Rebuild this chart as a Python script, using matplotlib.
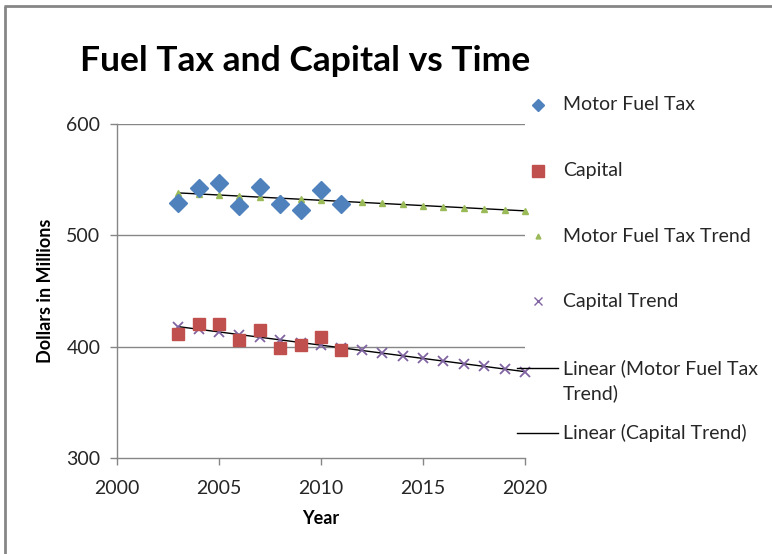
import matplotlib
matplotlib.use("Agg")
import matplotlib.pyplot as plt
from matplotlib.lines import Line2D
import numpy as np

plt.rcParams['font.family'] = ['Lato', 'DejaVu Sans']

years = [2003, 2004, 2005, 2006, 2007, 2008, 2009, 2010, 2011]
motor_fuel_tax = [528.6, 542.6, 546.6, 526.4, 543.5, 527.7, 523.2, 540.5, 527.7]
capital = [411.4, 420.2, 420.0, 406.3, 415.0, 398.5, 401.5, 409.0, 397.0]

trend_years = [2003, 2004, 2005, 2006, 2007, 2008, 2009, 2010, 2011, 2012,
               2013, 2014, 2015, 2016, 2017, 2018, 2019, 2020]
fuel_trend = [538.1, 537.2, 536.2, 535.3, 534.3, 533.4, 532.4, 531.5, 530.5,
              529.6, 528.6, 527.7, 526.7, 525.8, 524.8, 523.9, 522.9, 522.0]
capital_trend = [418.0, 415.6, 413.2, 410.9, 408.5, 406.1, 403.7, 401.3, 399.0,
                 396.6, 394.2, 391.8, 389.4, 387.1, 384.7, 382.3, 379.9, 377.5]

x_ticks = [2000, 2005, 2010, 2015, 2020]
y_ticks = [300, 400, 500, 600]

labels = ["Motor Fuel Tax", "Capital", "Motor Fuel Tax Trend", "Capital Trend",
          "Linear (Motor Fuel Tax", "Linear (Capital Trend)"]
label_cont = "Trend)"

W, H = 772, 554
fig = plt.figure(figsize=(W / 100, H / 100), dpi=100)

def fx(px):
    return px / W

def fy(py):
    return 1 - py / H

ax = fig.add_axes([fx(117), fy(458), fx(525) - fx(117), fy(124) - fy(458)])
ax.set_xlim(2000, 2020)
ax.set_ylim(300, 600)
ax.set_xticks(x_ticks)
ax.set_yticks(y_ticks)
gray = '#868686'
for s in ['top', 'right']:
    ax.spines[s].set_visible(False)
for s in ['left', 'bottom']:
    ax.spines[s].set_color(gray)
    ax.spines[s].set_linewidth(1)
ax.tick_params(axis='both', colors=gray, length=5, width=1, direction='out',
               labelcolor='#262626', labelsize=14)
ax.tick_params(axis='y', pad=7)
ax.tick_params(axis='x', pad=11)
for yv in y_ticks[1:]:
    ax.axhline(yv, color=gray, lw=1, zorder=0)

blue = '#4F81BD'
red = '#C0504D'
green = '#9BBB59'
purple = '#8064A2'

# trend lines
for ty in (fuel_trend, capital_trend):
    c = np.polyfit(trend_years, ty, 1)
    xx = np.array([trend_years[0], trend_years[-1]])
    ax.plot(xx, np.polyval(c, xx), color='black', lw=1, zorder=3)

ax.plot(trend_years, fuel_trend, linestyle='none', marker='^', ms=4.5,
        color=green, zorder=4, clip_on=False)
ax.plot(trend_years, capital_trend, linestyle='none', marker='x', ms=6.5,
        mew=1.3, color=purple, zorder=4, clip_on=False)
ax.plot(years, motor_fuel_tax, linestyle='none', marker='D', ms=9,
        color=blue, zorder=5)
ax.plot(years, capital, linestyle='none', marker='s', ms=9,
        color=red, zorder=5)

ax.set_xlabel("Year", fontsize=13, fontweight='bold', labelpad=9)
ax.set_ylabel("Dollars in Millions", fontsize=13, fontweight='bold', labelpad=9)

fig.text(fx(80), fy(61), "Fuel Tax and Capital vs Time", fontsize=25.5,
         fontweight='bold', ha='left', va='center')

# legend (manual)
leg_y = [105, 171, 236, 301, 368, 433]
mk = [dict(marker='D', ms=6.5, color=blue),
      dict(marker='s', ms=8.5, color=red),
      dict(marker='^', ms=3.5, color=green),
      dict(marker='x', ms=6, mew=1, color=purple)]
for i in range(4):
    fig.add_artist(Line2D([fx(538)], [fy(leg_y[i])], linestyle='none',
                          transform=fig.transFigure, **mk[i]))
for i in (4, 5):
    fig.add_artist(Line2D([fx(517), fx(558)], [fy(leg_y[i]), fy(leg_y[i])],
                          color='black', lw=1, transform=fig.transFigure))
for i, lab in enumerate(labels):
    fig.text(fx(563), fy(leg_y[i]), lab, fontsize=14, ha='left',
             va='center', color='#262626')
fig.text(fx(563), fy(393), label_cont, fontsize=14, ha='left',
         va='center', color='#262626')

# outer border (top and left edges only visible)
fig.add_artist(Line2D([fx(5), fx(5)], [0, fy(6)], color=gray, lw=2,
                      transform=fig.transFigure, solid_capstyle='butt'))
fig.add_artist(Line2D([fx(4), 1], [fy(6), fy(6)], color=gray, lw=2,
                      transform=fig.transFigure, solid_capstyle='butt'))

fig.savefig("out.png", dpi=100)
